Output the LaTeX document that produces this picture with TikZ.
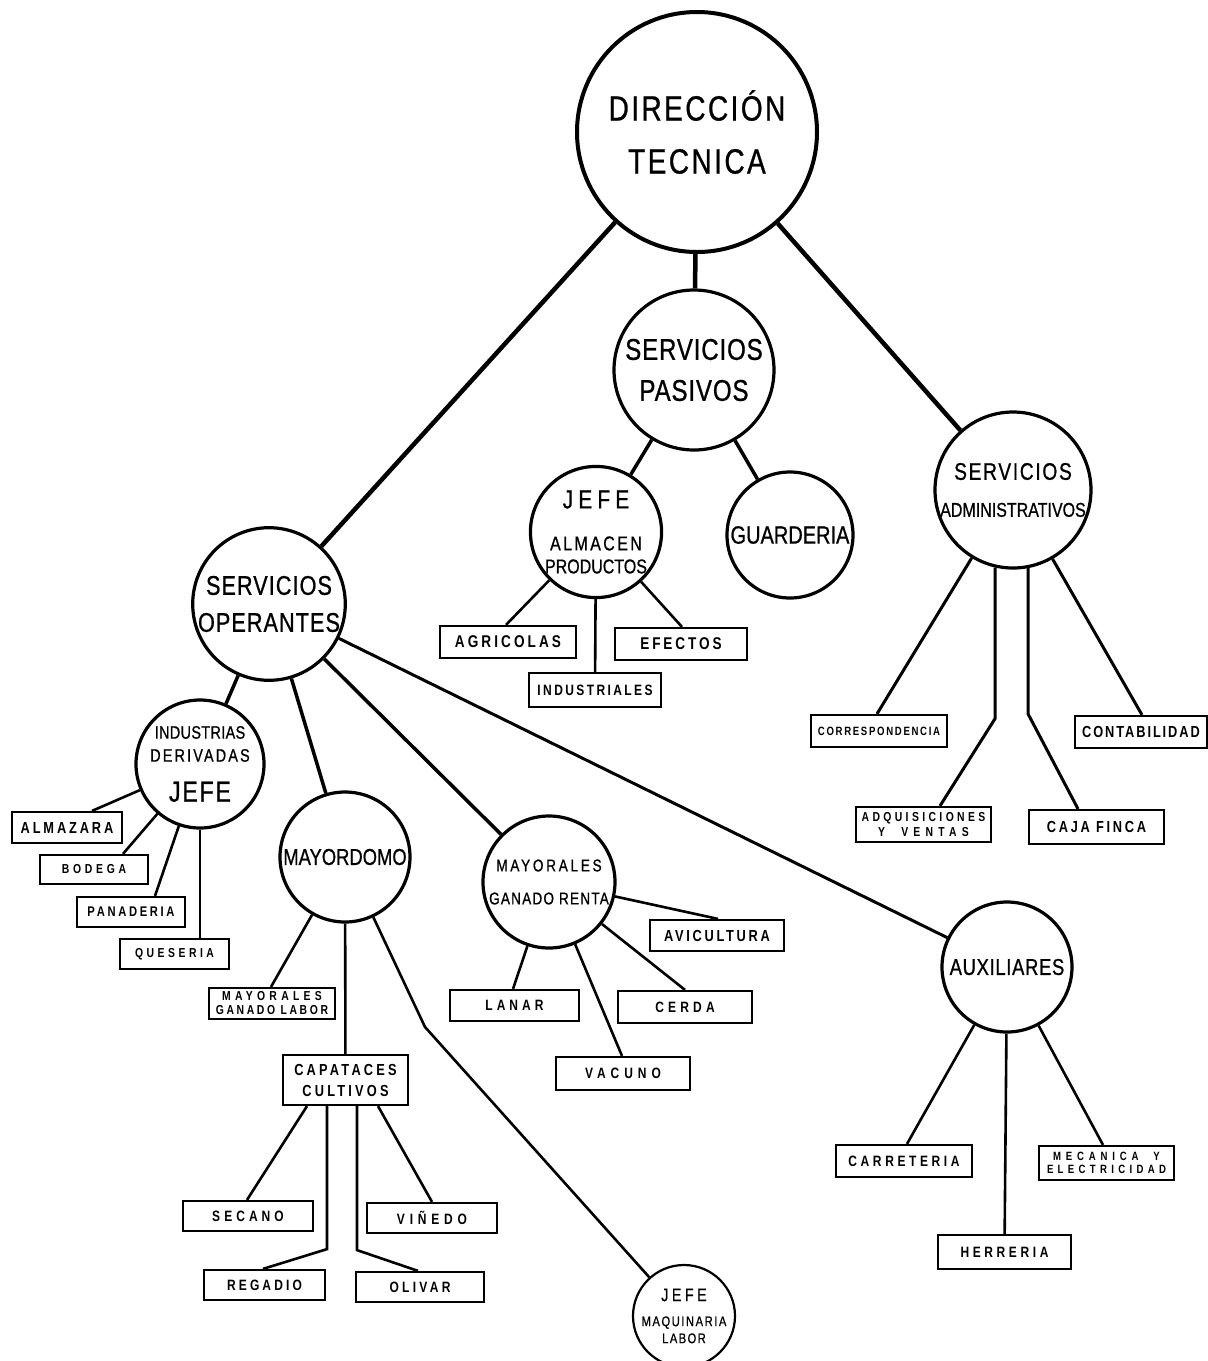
\documentclass[tikz,border=0pt]{standalone}
\usepackage{fontspec}
\setmainfont{Liberation Sans}
\newfontfamily\lettering[FakeStretch=0.8,FakeBold=0.8]{Liberation Sans}
\newfontfamily\stencil[FakeStretch=0.8]{Liberation Sans}
% size, baselineskip, letter spacing
\newcommand\bt[3]{\lettering\fontsize{#1}{#2}\selectfont\addfontfeature{LetterSpace=#3}}
\newcommand\bx[3]{\stencil\bfseries\fontsize{#1}{#2}\selectfont\addfontfeature{LetterSpace=#3}}

\begin{document}
\begin{tikzpicture}[
    x=1pt, y=-1pt,
    unit/.style={circle,draw,line width=3.2pt,inner sep=0pt,align=center},
    post/.style={rectangle,draw,line width=2.2pt,inner sep=0pt,align=center,minimum width=132pt,minimum height=31pt},
    trunk/.style={line width=4.5pt},
    branch/.style={line width=3.5pt},
    twig/.style={line width=2.6pt}
]
\useasboundingbox (0,0) rectangle (1208,1361);

% Circles
\node[unit,line width=4pt,minimum size=240pt,font=\bt{35}{53}{7}] (direccion) at (697,132) {DIRECCIÓN\\TECNICA};
\node[unit,minimum size=160pt,font=\bt{30}{41}{3}] (pasivos) at (694,370) {SERVICIOS\\PASIVOS};
\node[unit,minimum size=156pt,font=\bt{20}{37}{0}] (admin) at (1013,490) {{\bt{24}{24}{7}SERVICIOS}\\ADMINISTRATIVOS};
\node[unit,minimum size=128pt,font=\bt{20}{23}{0}] (jefealm) at (596,532) {{\bt{26}{26}{20}JEFE}\\[19pt]{\bt{20}{23}{12}ALMACEN}\\PRODUCTOS};
\node[unit,minimum size=126pt,font=\bt{25}{25}{0}] (guarderia) at (790,535) {GUARDERIA};
\node[unit,minimum size=152pt,font=\bt{27}{37}{4}] (operantes) at (269,604) {SERVICIOS\\OPERANTES};
\node[unit,minimum size=128pt,font=\bt{18}{23}{2}] (industrias) at (200,764) {INDUSTRIAS\\{\bt{18}{23}{12}DERIVADAS}\\[17pt]{\bt{29}{29}{6}JEFE}};
\node[unit,minimum size=130pt,font=\bt{23}{23}{0}] (mayordomo) at (345,857) {MAYORDOMO};
\node[unit,minimum size=132pt,font=\bt{17}{33}{7}] (mgr) at (549,882) {{\addfontfeature{LetterSpace=16}MAYORALES}\\GANADO RENTA};
\node[unit,minimum size=130pt,font=\bt{23}{23}{3}] (auxiliares) at (1007,967) {AUXILIARES};
\node[unit,line width=2.2pt,minimum size=102pt,font=\bt{14}{20}{10}] (jefemaq) at (684,1316) {{\bt{18}{18}{19}JEFE}\\[5pt]{\bt{14}{17}{11}MAQUINARIA}\\[-3pt]LABOR};

% Boxes
\node[post,minimum width=136pt,minimum height=32pt,font=\bx{17}{17}{18}] (agricolas) at (508,642) {AGRICOLAS};
\node[post,minimum height=32pt,font=\bx{17}{17}{17}] (efectos) at (681,644) {EFECTOS};
\node[post,minimum height=34pt,font=\bx{15}{15}{16}] (industriales) at (595,690) {INDUSTRIALES};
\node[post,minimum width=110pt,font=\bx{16}{16}{18}] (almazara) at (67,827.5) {ALMAZARA};
\node[post,minimum width=108pt,minimum height=29pt,font=\bx{13}{13}{29}] (bodega) at (94,869.5) {BODEGA};
\node[post,minimum width=108pt,minimum height=30pt,font=\bx{14}{14}{19}] (panaderia) at (131,912) {PANADERIA};
\node[post,minimum width=109pt,minimum height=30pt,font=\bx{13}{13}{27}] (queseria) at (174.5,954) {QUESERIA};
\node[post,minimum width=126pt,font=\bx{13}{14}{20}] (maylabor) at (272,1003.5) {{\addfontfeature{LetterSpace=33}MAYORALES}\\GANADO LABOR};
\node[post,minimum width=125pt,minimum height=50pt,font=\bx{16}{21}{20}] (capataces) at (345.5,1080) {CAPATACES\\CULTIVOS};
\node[post,minimum width=130pt,minimum height=30pt,font=\bx{15}{15}{27}] (secano) at (248,1216) {SECANO};
\node[post,minimum width=130pt,minimum height=30pt,font=\bx{15}{15}{32}] (vinedo) at (432,1218) {VIÑEDO};
\node[post,minimum width=121pt,minimum height=30pt,font=\bx{15}{15}{21}] (regadio) at (264.5,1285) {REGADIO};
\node[post,minimum width=128pt,minimum height=30pt,font=\bx{15}{15}{22}] (olivar) at (420,1287) {OLIVAR};
\node[post,minimum width=134pt,font=\bx{16}{16}{17}] (avicultura) at (717,935.5) {AVICULTURA};
\node[post,minimum width=129pt,font=\bx{15}{15}{27}] (lanar) at (514.5,1005.5) {LANAR};
\node[post,minimum width=134pt,minimum height=32pt,font=\bx{15}{15}{28}] (cerda) at (685,1007) {CERDA};
\node[post,minimum width=134pt,minimum height=33pt,font=\bx{15}{15}{33}] (vacuno) at (623,1073.5) {VACUNO};
\node[post,minimum width=136pt,minimum height=32pt,font=\bx{12}{12}{14}] (correspondencia) at (879,731) {CORRESPONDENCIA};
\node[post,minimum height=32pt,font=\bx{16}{16}{12}] (contabilidad) at (1141,732) {CONTABILIDAD};
\node[post,minimum width=135pt,minimum height=35pt,font=\bx{13}{15}{26}] (adquisiciones) at (923.5,824.5) {ADQUISICIONES\\{\addfontfeature{LetterSpace=40}Y\ \ VENTAS}};
\node[post,minimum width=135pt,minimum height=34pt,font=\bx{16}{16}{17}] (cajafinca) at (1096.5,827) {CAJA FINCA};
\node[post,minimum width=136pt,minimum height=32pt,font=\bx{15}{15}{24}] (carreteria) at (904,1161) {CARRETERIA};
\node[post,minimum width=135pt,minimum height=34pt,font=\bx{12}{13}{36}] (mecanica) at (1106.5,1163) {{\addfontfeature{LetterSpace=40}MECANICA\ \ Y}\\ELECTRICIDAD};
\node[post,minimum width=133pt,minimum height=34pt,font=\bx{15}{15}{24}] (herreria) at (1004.5,1252) {HERRERIA};

% Top level
\draw[trunk] (direccion) -- (operantes);
\draw[trunk] (direccion) -- (pasivos);
\draw[trunk] (direccion) -- (admin);

% Servicios pasivos
\draw[branch] (pasivos) -- (jefealm);
\draw[branch] (pasivos) -- (guarderia);
\draw[twig] (jefealm) -- ([xshift=-2]agricolas.north);
\draw[twig] (jefealm) -- (industriales);
\draw[twig] (jefealm) -- ([xshift=1]efectos.north);

% Servicios administrativos
\draw[twig,line width=3pt] (admin) -- ([xshift=-2]correspondencia.north);
\draw[twig,line width=3pt] (admin.257) -- ++(0,151) -- ([xshift=16.5]adquisiciones.north);
\draw[twig,line width=3pt] (admin.281) -- ++(0,146) -- ([xshift=-18.5]cajafinca.north);
\draw[twig,line width=3pt] (admin) -- ([xshift=1]contabilidad.north);

% Servicios operantes
\draw[branch] (operantes) -- (industrias);
\draw[branch] (operantes) -- (mayordomo);
\draw[branch] (operantes) -- (mgr);
\draw[twig,line width=3pt] (operantes) -- (auxiliares);

% Industrias derivadas
\draw[twig] (industrias) -- ([xshift=25]almazara.north);
\draw[twig] (industrias) -- ([xshift=29]bodega.north);
\draw[twig] (industrias) -- ([xshift=24]panaderia.north);
\draw[twig] (industrias) -- ([xshift=25.5]queseria.north);

% Mayordomo
\coordinate (maqbend) at (425,1027);
\draw[twig] (mayordomo) -- ([xshift=-1]maylabor.north);
\draw[twig] (mayordomo) -- (capataces);
\draw[twig] (mayordomo) -- (maqbend) -- (jefemaq);

% Capataces cultivos
\draw[twig] ([xshift=-38.5]capataces.south) -- ([xshift=-1]secano.north);
\draw[twig] ([xshift=-18.5]capataces.south) -- ++(0,143) -- ([xshift=-1.5]regadio.north);
\draw[twig] ([xshift=11.5]capataces.south) -- ++(0,144) -- ([xshift=-2]olivar.north);
\draw[twig] ([xshift=32.5]capataces.south) -- (vinedo.north);

% Mayorales ganado renta
\draw[twig] (mgr) -- ([xshift=1]avicultura.north);
\draw[twig] (mgr) -- (cerda.north);
\draw[twig] (mgr) -- ([xshift=-1.5]lanar.north);
\draw[twig] (mgr) -- ([xshift=-1]vacuno.north);

% Auxiliares
\draw[twig] (auxiliares) -- ([xshift=3]carreteria.north);
\draw[twig] (auxiliares) -- (herreria);
\draw[twig] (auxiliares) -- ([xshift=-3.5]mecanica.north);

\end{tikzpicture}
\end{document}
